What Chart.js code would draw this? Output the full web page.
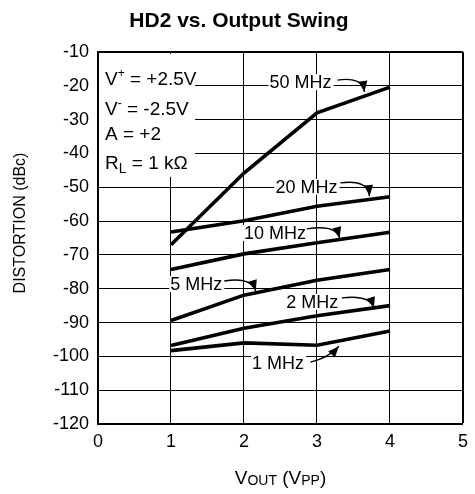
<!DOCTYPE html>
<html>
<head>
<meta charset="utf-8">
<script src="https://cdn.jsdelivr.net/npm/chart.js@4/dist/chart.umd.min.js"></script>
<style>
  html, body { margin: 0; padding: 0; background: #fff; }
  #wrap { width: 475px; height: 494px; }
</style>
</head>
<body>
<div id="wrap"><canvas id="grafico"></canvas></div>
<script>
// dados
const vout = [1, 2, 3, 4];
const hd2_1MHz = [-98.3, -96.0, -96.7, -92.5];
const hd2_2MHz = [-96.8, -91.7, -88.0, -85.0];
const hd2_5MHz = [-89.4, -81.9, -77.5, -74.3];
const hd2_10MHz = [-74.3, -69.7, -66.4, -63.3];
const hd2_20MHz = [-63.2, -59.9, -55.6, -52.8];
const hd2_50MHz = [-67.0, -45.8, -28.0, -20.4];
const seriesNames = ['1 MHz', '2 MHz', '5 MHz', '10 MHz', '20 MHz', '50 MHz'];
const xTicks = [0, 1, 2, 3, 4, 5];
const yTicks = [-10, -20, -30, -40, -50, -60, -70, -80, -90, -100, -110, -120];

const FONT = '"Liberation Sans", Arial, Helvetica, sans-serif';

// posição das legendas com seta (em unidades do gráfico)
const callouts = [
  { name: '50 MHz', x: 2.35, y: -18.9, from: [3.28, -18.3], ctrl: [3.62, -17.2], tip: [3.65, -21.8] },
  { name: '20 MHz', x: 2.43, y: -49.9, from: [3.32, -48.7], ctrl: [3.70, -47.6], tip: [3.72, -52.6] },
  { name: '10 MHz', x: 2.0, y: -63.5, from: [2.86, -62.3], ctrl: [3.26, -61.0], tip: [3.31, -65.0] },
  { name: '5 MHz', x: 0.99, y: -78.6, from: [1.73, -77.7], ctrl: [2.10, -76.4], tip: [2.16, -80.7] },
  { name: '2 MHz', x: 2.58, y: -83.9, from: [3.34, -82.7], ctrl: [3.72, -81.7], tip: [3.78, -85.7] },
  { name: '1 MHz', x: 2.11, y: -102.0, from: [2.91, -101.7], ctrl: [3.16, -100.4], tip: [3.30, -97.0] }
];

const allSeries = [hd2_1MHz, hd2_2MHz, hd2_5MHz, hd2_10MHz, hd2_20MHz, hd2_50MHz];

const datasets = allSeries.map((serie, i) => ({
  label: seriesNames[i],
  data: serie.map((v, j) => ({ x: vout[j], y: v })),
  borderColor: '#000',
  borderWidth: 3.6,
  pointRadius: 0,
  tension: 0,
  fill: false
}));

function drawText(ctx, parts, x, y, align) {
  // parts: [texto, tamanho, deslocamento vertical]
  let total = 0;
  parts.forEach((p) => { ctx.font = p[1] + 'px ' + FONT; total += ctx.measureText(p[0]).width; });
  let cx = align === 'center' ? x - total / 2 : x;
  parts.forEach((p) => {
    ctx.font = p[1] + 'px ' + FONT;
    ctx.fillText(p[0], cx, y + (p[2] || 0));
    cx += ctx.measureText(p[0]).width;
  });
}

const extras = {
  id: 'extras',
  afterDatasetsDraw(chart) {
    const ctx = chart.ctx;
    const xs = chart.scales.x;
    const ys = chart.scales.y;
    const area = chart.chartArea;
    ctx.save();
    ctx.fillStyle = '#000';
    ctx.textBaseline = 'alphabetic';
    ctx.textAlign = 'left';

    // caixa das condições
    ctx.fillStyle = '#fff';
    ctx.fillRect(area.left + 1, area.top + 2, xs.getPixelForValue(1.33) - area.left - 1, ys.getPixelForValue(-46.9) - area.top - 2);
    ctx.fillStyle = '#000';
    const bx = area.left + 7;
    drawText(ctx, [['V', 19], ['+', 12, -8], [' = +2.5V', 19]], bx, 85);
    drawText(ctx, [['V', 19], ['-', 12, -8], [' = -2.5V', 19]], bx, 115);
    drawText(ctx, [['A = +2', 19]], bx, 140);
    drawText(ctx, [['R', 19], ['L', 14, 4], [' = 1 k\u03A9', 19]], bx, 169);

    // legendas com seta
    ctx.font = '18px ' + FONT;
    callouts.forEach((c) => {
      const tx = xs.getPixelForValue(c.x);
      const ty = ys.getPixelForValue(c.y);
      const w = ctx.measureText(c.name).width;
      ctx.fillStyle = '#fff';
      ctx.fillRect(tx - 1, ty - 8, w + 3, 16);
      ctx.fillStyle = '#000';
      ctx.fillText(c.name, tx, ty + 6);

      const p0 = [xs.getPixelForValue(c.from[0]), ys.getPixelForValue(c.from[1])];
      const pc = [xs.getPixelForValue(c.ctrl[0]), ys.getPixelForValue(c.ctrl[1])];
      const p1 = [xs.getPixelForValue(c.tip[0]), ys.getPixelForValue(c.tip[1])];
      ctx.strokeStyle = '#000';
      ctx.lineWidth = 1.4;
      ctx.beginPath();
      ctx.moveTo(p0[0], p0[1]);
      ctx.quadraticCurveTo(pc[0], pc[1], p1[0], p1[1]);
      ctx.stroke();
      const ang = Math.atan2(p1[1] - pc[1], p1[0] - pc[0]);
      const len = 11, half = 4.5;
      ctx.beginPath();
      ctx.moveTo(p1[0], p1[1]);
      ctx.lineTo(p1[0] - len * Math.cos(ang) + half * Math.sin(ang), p1[1] - len * Math.sin(ang) - half * Math.cos(ang));
      ctx.lineTo(p1[0] - len * Math.cos(ang) - half * Math.sin(ang), p1[1] - len * Math.sin(ang) + half * Math.cos(ang));
      ctx.closePath();
      ctx.fill();
    });

    // títulos
    ctx.textAlign = 'center';
    ctx.font = 'bold 21px ' + FONT;
    ctx.fillText('HD2 vs. Output Swing', 239, 27);

    ctx.textAlign = 'left';
    drawText(ctx, [['V', 19], ['OUT', 14, 1], [' (V', 19], ['PP', 14, 1], [')', 19]], (area.left + area.right) / 2, 484, 'center');

    ctx.save();
    ctx.translate(25, 223);
    ctx.rotate(-Math.PI / 2);
    ctx.textAlign = 'center';
    ctx.font = '16px ' + FONT;
    ctx.fillText('DISTORTION (dBc)', 0, 0);
    ctx.restore();

    ctx.restore();
  }
};

new Chart(document.getElementById('grafico'), {
  type: 'line',
  data: { datasets: datasets },
  options: {
    responsive: true,
    maintainAspectRatio: false,
    animation: false,
    layout: { padding: { top: 52, right: 7, left: 0, bottom: 0 } },
    plugins: {
      legend: { display: false },
      tooltip: { enabled: false },
      title: { display: false }
    },
    scales: {
      x: {
        type: 'linear',
        min: 0,
        max: 5,
        afterBuildTicks: (scale) => { scale.ticks = xTicks.map((v) => ({ value: v })); },
        afterFit: (scale) => { scale.height = 70; },
        grid: {
          color: '#000',
          lineWidth: (c) => (c.tick && c.tick.value === 5 ? 2 : 1),
          drawTicks: false
        },
        border: { display: true, color: '#000', width: 2 },
        ticks: {
          color: '#000',
          font: { family: FONT, size: 18 },
          padding: 7,
          maxRotation: 0
        }
      },
      y: {
        type: 'linear',
        min: -120,
        max: -10,
        afterBuildTicks: (scale) => { scale.ticks = yTicks.map((v) => ({ value: v })); },
        afterFit: (scale) => { scale.width = 98; },
        grid: {
          color: '#000',
          lineWidth: (c) => (c.tick && c.tick.value === -10 ? 2 : 1),
          drawTicks: false
        },
        border: { display: true, color: '#000', width: 2 },
        ticks: {
          color: '#000',
          font: { family: FONT, size: 18 },
          padding: 9
        }
      }
    }
  },
  plugins: [extras]
});
</script>
</body>
</html>
